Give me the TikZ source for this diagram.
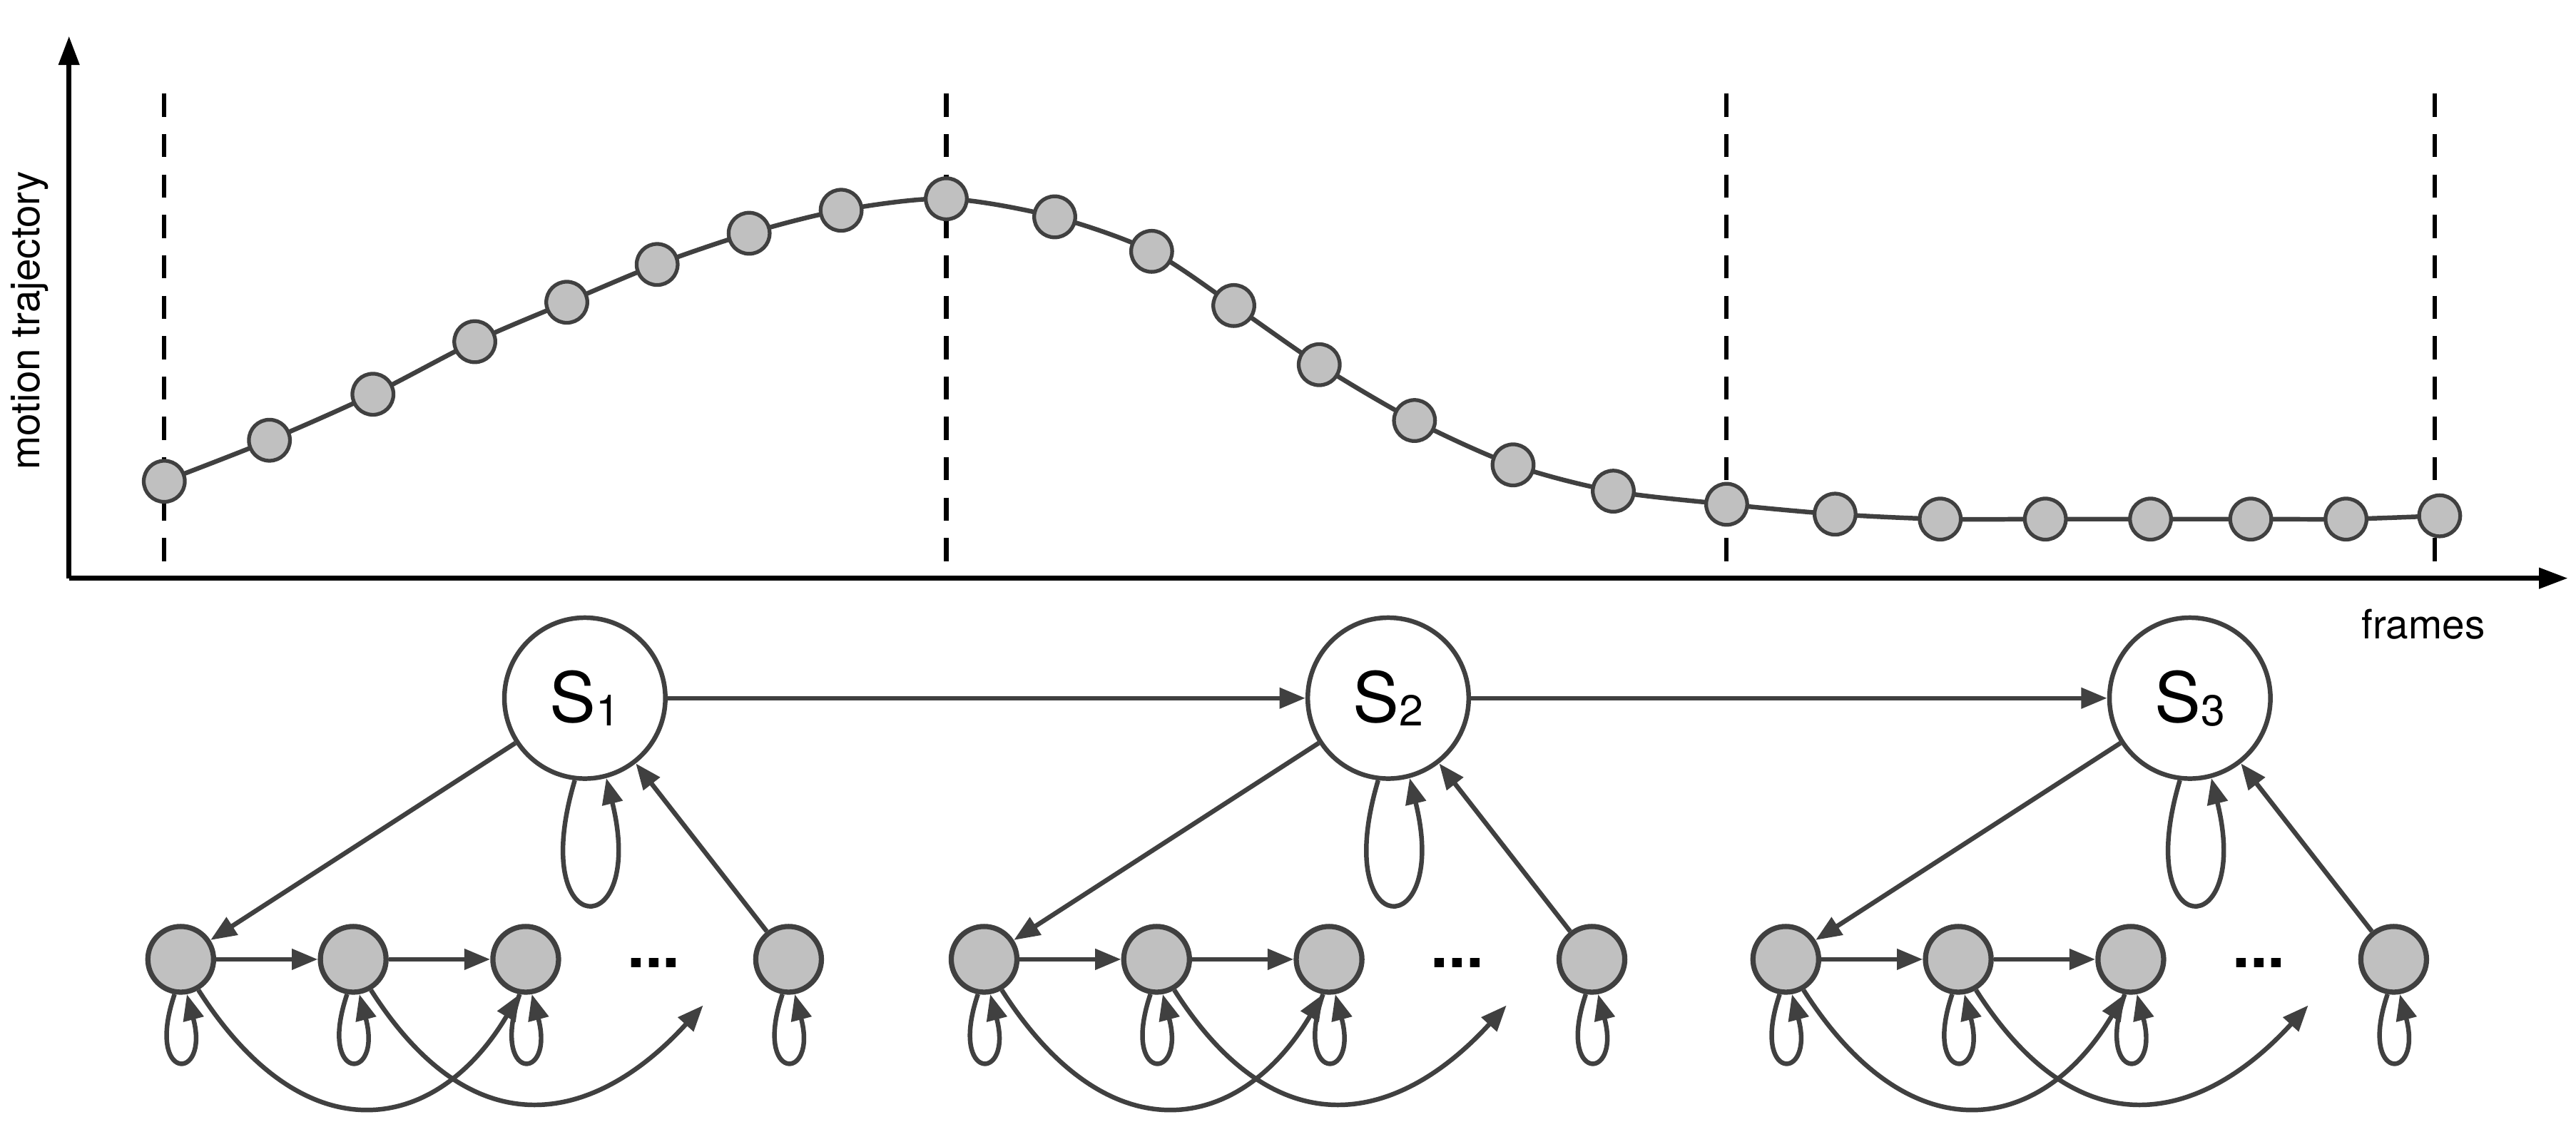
\documentclass[tikz,border=0pt]{standalone}
\usepackage{fontspec}
\setmainfont{TeX Gyre Heros}
\usetikzlibrary{arrows.meta,calc}
\definecolor{ln}{HTML}{404040}
\definecolor{fl}{HTML}{C0C0C0}
\begin{document}
\begin{tikzpicture}[x=0.02cm,y=-0.02cm,
  dot/.style={circle,draw=ln,fill=fl,line width=1.3pt,minimum size=0.5cm,inner sep=0},
  st/.style={circle,draw=ln,fill=white,line width=1.6pt,minimum size=1.96cm,inner sep=0,font=\fontsize{24}{28}\selectfont},
  ob/.style={circle,draw=ln,fill=fl,line width=1.8pt,minimum size=0.8cm,inner sep=0},
  ed/.style={draw=ln,line width=1.6pt,-{Triangle[length=9pt,width=7pt]}},
  dsh/.style={black,line width=1.5pt,dash pattern=on 8pt off 6pt}]
\useasboundingbox (0,0) rectangle (1568,683);
% axes
\coordinate (o) at (42,352);
\coordinate (ytop) at (42,22);
\coordinate (xend) at (1563,352);
\draw[black,line width=1.6pt,-{Triangle[length=10pt,width=7pt]}] (o) -- (ytop);
\draw[black,line width=1.6pt,-{Triangle[length=10pt,width=7pt]}] (o) -- (xend);
\foreach \x in {100,576,1051,1482}{\draw[dsh] (\x,57) -- (\x,352);}
\node[rotate=90,font=\fontsize{14}{16}\selectfont] (ylab) at (18,195) {motion trajectory};
\node[font=\fontsize{14}{16}\selectfont] (xlab) at (1475,380) {frames};
% trajectory
\draw[ln,line width=1.6pt] plot[smooth,tension=0.5] coordinates {(100,293)(164,268)(227,240)(289,208)(345,184)(400,161)(456,142)(512,128)(576,121)(642,132)(701,153)(751,186)(803,222)(861,256)(921,283)(982,299)(1051,307)(1117,313)(1181,316)(1245,316)(1309,316)(1370,316)(1428,316)(1485,314)};
\foreach \p [count=\i] in {(100,293),(164,268),(227,240),(289,208),(345,184),(400,161),(456,142),(512,128),(576,121),(642,132),(701,153),(751,186),(803,222),(861,256),(921,283),(982,299),(1051,307),(1117,313),(1181,316),(1245,316),(1309,316),(1370,316),(1428,316),(1485,314)}
  {\node[dot] (t\i) at \p {};}
% states
\foreach \x/\k in {356/1,845/2,1333/3}{
  \node[st] (s\k) at (\x,425) {S\raisebox{-0.1ex}{\fontsize{15}{18}\selectfont\k}};
  \node[ob] (a\k) at (\x-246,584) {};
  \node[ob] (b\k) at (\x-141,584) {};
  \node[ob] (c\k) at (\x-36,584) {};
  \node[font=\fontsize{22}{24}\selectfont\bfseries] (d\k) at (\x+42,586) {...};
  \node[ob] (e\k) at (\x+124,584) {};
  \coordinate (f\k) at (\x+72,612);
  \draw[ed] (s\k) -- (a\k);
  \draw[ed] (e\k) -- (s\k);
  \draw[ed] (s\k.-97) .. controls (\x-36,575) and (\x+38,575) .. (s\k.-75);
  \draw[ed] (a\k) -- (b\k);
  \draw[ed] (b\k) -- (c\k);
  \draw[ed] (a\k.-60) .. controls (\x-170,705) and (\x-90,690) .. (c\k.-100);
  \draw[ed] (b\k.-60) .. controls (\x-65,705) and (\x+10,680) .. (f\k);
  \foreach \n in {a,b,c,e}{
    \draw[ed] (\n\k.-100) .. controls ($(\n\k)+(-22,75)$) and ($(\n\k)+(18,75)$) .. (\n\k.-80);
  }
}
\draw[ed] (s1) -- (s2);
\draw[ed] (s2) -- (s3);
\end{tikzpicture}
\end{document}
